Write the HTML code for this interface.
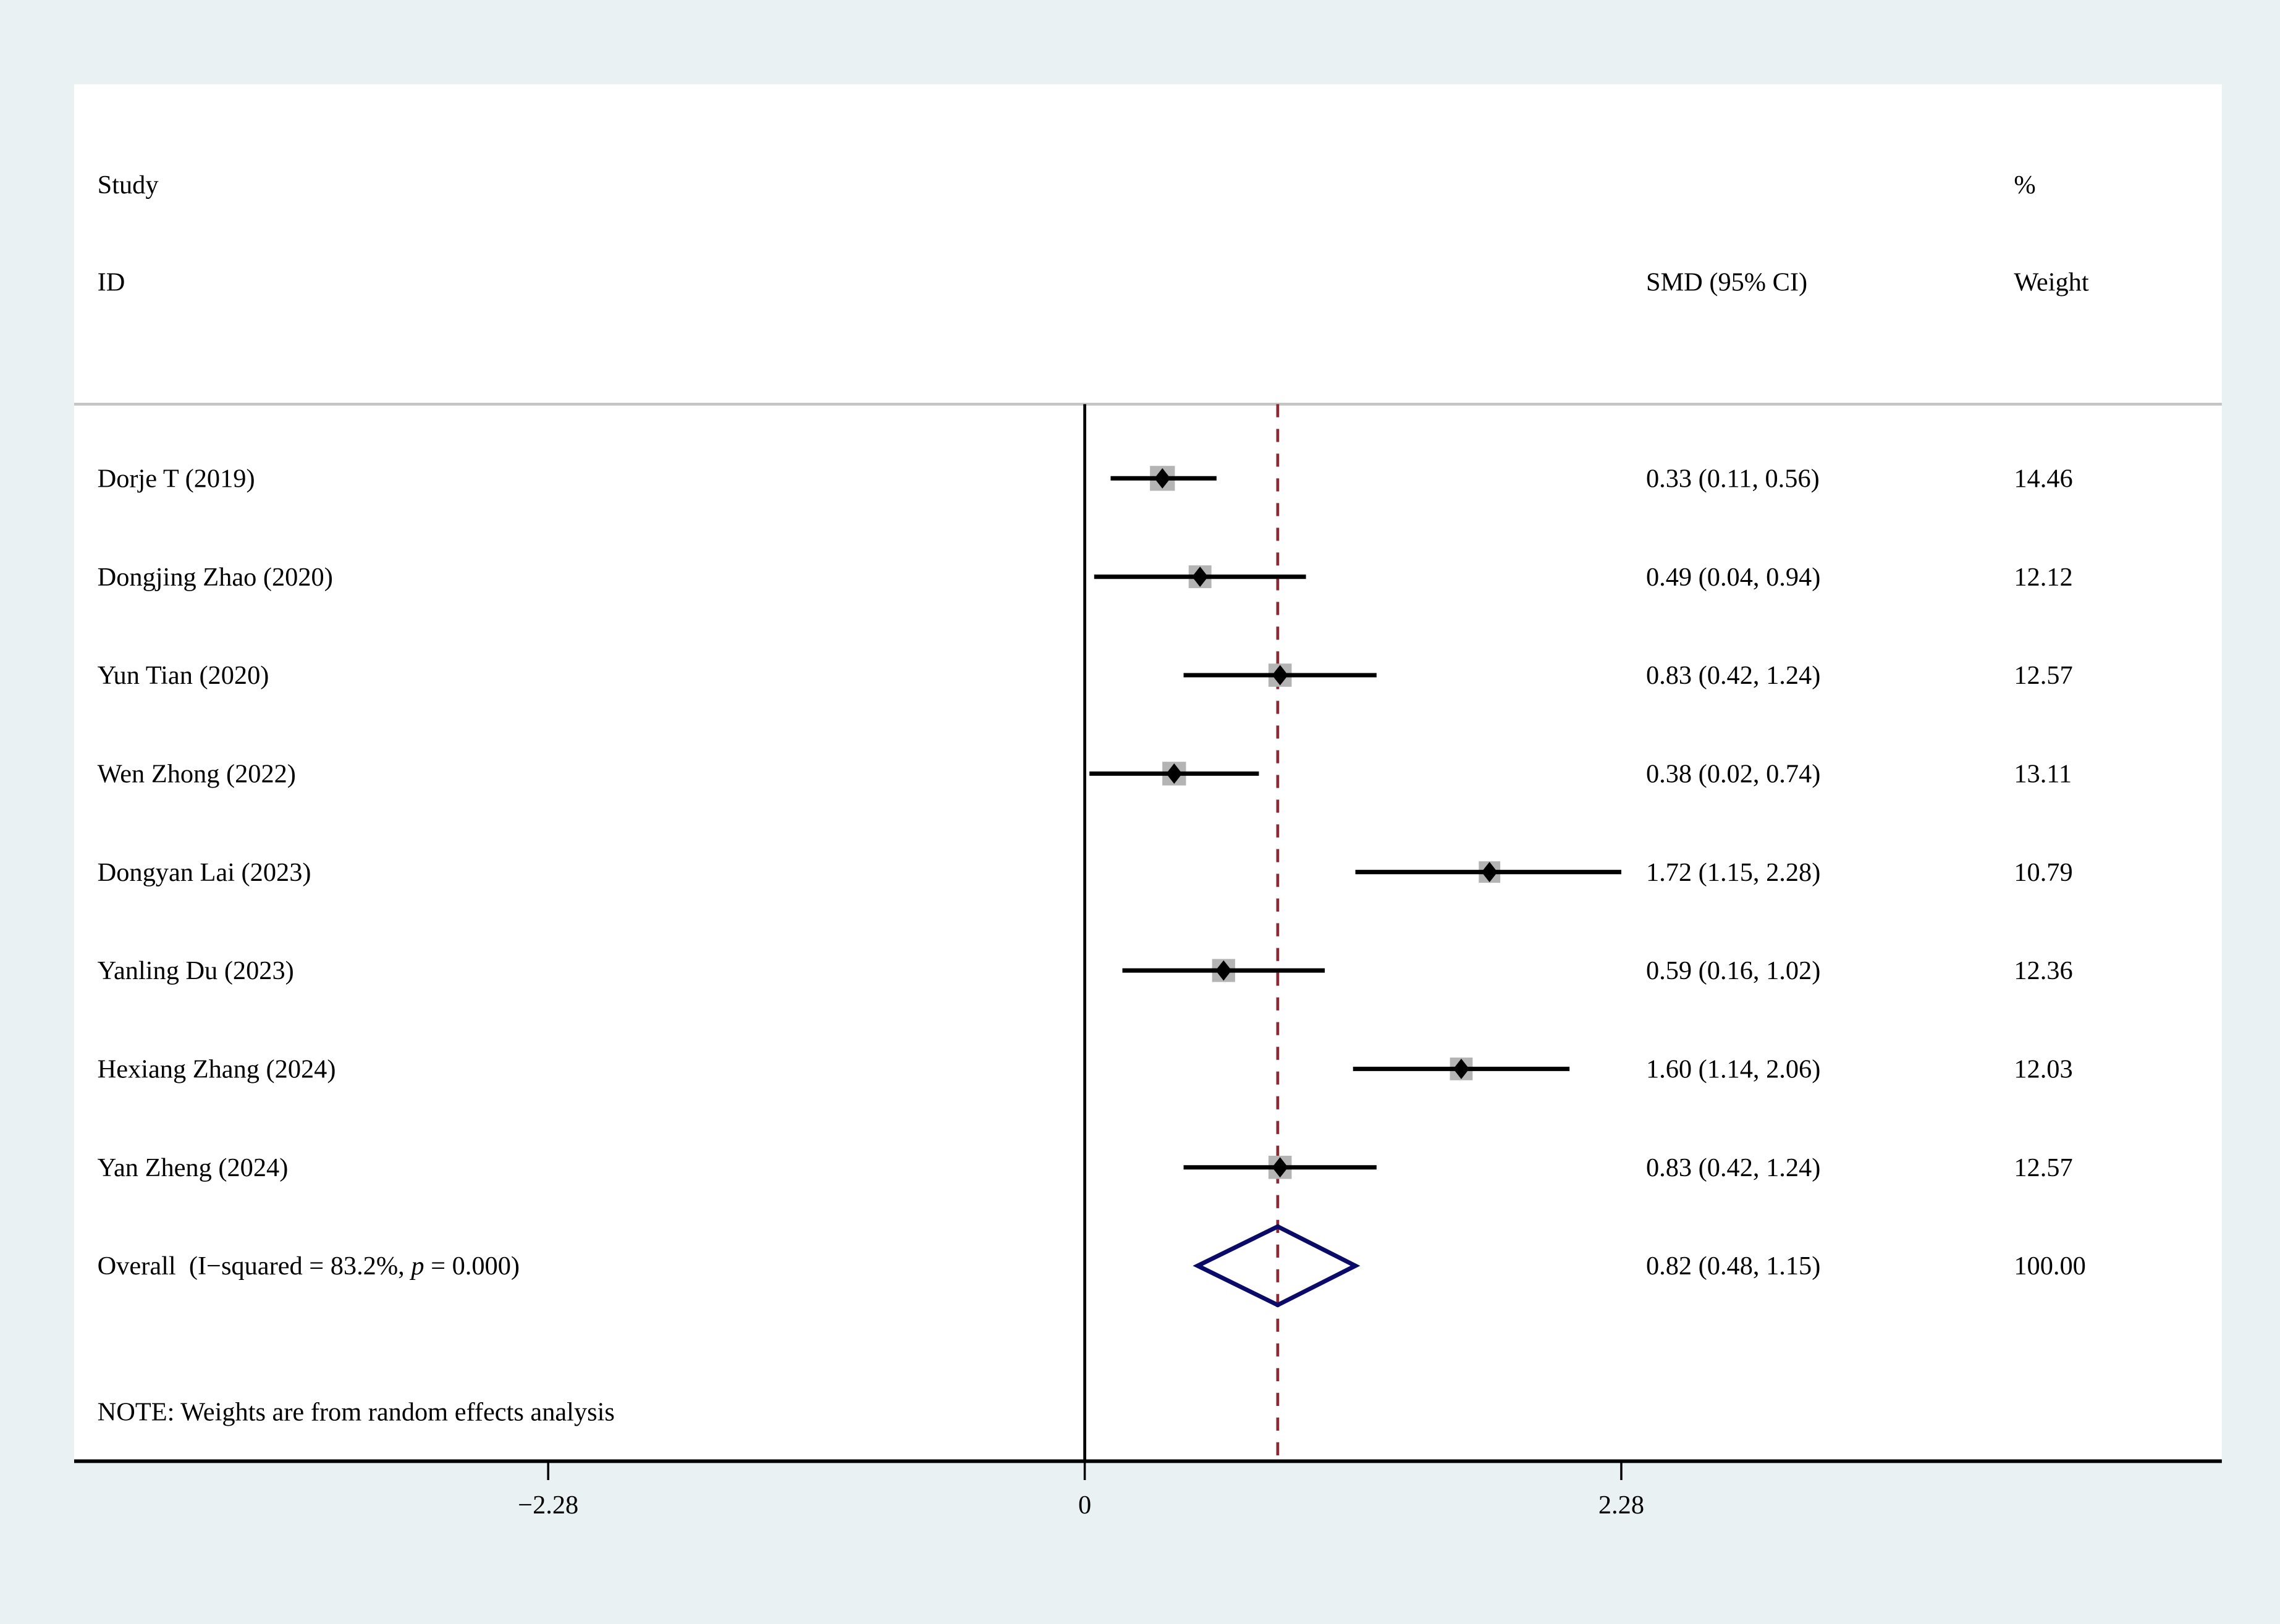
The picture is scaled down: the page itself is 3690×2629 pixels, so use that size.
<!DOCTYPE html>
<html><head><meta charset="utf-8"><style>
html,body{margin:0;padding:0;background:#e9f1f3;}
svg{display:block;}
text{font-family:"Liberation Serif","Times New Roman",serif;font-size:18px;fill:#000;white-space:pre;}
</style></head><body>
<svg id="chart" width="3690" height="2629" viewBox="0 0 1568 1117" preserveAspectRatio="none" xmlns="http://www.w3.org/2000/svg">
<rect x="0" y="0" width="1568" height="1117" fill="#e9f1f3"/>
<rect x="51" y="58" width="1477" height="947" fill="#ffffff"/>
<line x1="51" y1="278" x2="1528" y2="278" stroke="#c4c4c4" stroke-width="2"/>
<text x="67" y="133">Study</text>
<text x="67" y="200">ID</text>
<text x="1132" y="200">SMD (95% CI)</text>
<text x="1385" y="133">%</text>
<text x="1385" y="200">Weight</text>
<g id="marks"></g>
<text x="67" y="977">NOTE: Weights are from random effects analysis</text>
</svg>
<script>
const studies = ["Dorje T (2019)","Dongjing Zhao (2020)","Yun Tian (2020)","Wen Zhong (2022)","Dongyan Lai (2023)","Yanling Du (2023)","Hexiang Zhang (2024)","Yan Zheng (2024)"];
const smd = [0.33,0.49,0.83,0.38,1.72,0.59,1.60,0.83];
const lower = [0.11,0.04,0.42,0.02,1.15,0.16,1.14,0.42];
const upper = [0.56,0.94,1.24,0.74,2.28,1.02,2.06,1.24];
const weights = [14.46,12.12,12.57,13.11,10.79,12.36,12.03,12.57];
const overall = [0.82,0.48,1.15];
const overallLabel = "Overall  (I\u2212squared = 83.2%, ";
const ticks = [-2.28,0,2.28];
const tickLabels = ["\u22122.28","0","2.28"];

const NS="http://www.w3.org/2000/svg";
const g=document.getElementById('marks');
const X0=746, PPU=369/2.28;
function xs(v){return X0+v*PPU;}
function ys(i){return 329+i*67.7;}
function mk(tag,attrs){const e=document.createElementNS(NS,tag);for(const k in attrs)e.setAttribute(k,attrs[k]);g.appendChild(e);return e;}
function fmt(v){return v.toFixed(2);}

let e=mk('line',{x1:xs(0),y1:278,x2:xs(0),y2:1005,stroke:'#000','stroke-width':2});


e=mk('line',{x1:xs(overall[0]),y1:278,x2:xs(overall[0]),y2:1005,stroke:'#8b2a35','stroke-width':2,'stroke-dasharray':'9,8'});



studies.forEach((s,i)=>{
  const y=ys(i);
  let t=mk('text',{x:67,y:y+6});t.textContent=s;
  
  
  const side=Math.sqrt(weights[i])*4.5;
  let r=mk('rect',{x:xs(smd[i])-side/2,y:y-side/2,width:side,height:side,fill:'#b4b4b4'});
  
  
  let l=mk('line',{x1:xs(lower[i]),y1:y,x2:xs(upper[i]),y2:y,stroke:'#000','stroke-width':3});
  
  
  const cx=xs(smd[i]);
  let d=mk('polygon',{points:`${cx},${y-7} ${cx+5.5},${y} ${cx},${y+7} ${cx-5.5},${y}`,fill:'#000'});
  
  
  let c=mk('text',{x:1132,y:y+6});c.textContent=`${fmt(smd[i])} (${fmt(lower[i])}, ${fmt(upper[i])})`;
  
  
  let w=mk('text',{x:1385,y:y+6});w.textContent=fmt(weights[i]);
  
  
});

const oy=ys(studies.length);
let ot=mk('text',{x:67,y:oy+6});


ot.appendChild(document.createTextNode(overallLabel));
const ts=document.createElementNS(NS,'tspan');ts.setAttribute('font-style','italic');ts.textContent='p';ot.appendChild(ts);
ot.appendChild(document.createTextNode(' = 0.000)'));
let od=mk('polygon',{points:`${xs(overall[1])},${oy} ${xs(overall[0])},${oy-27} ${xs(overall[2])},${oy} ${xs(overall[0])},${oy+27}`,fill:'none',stroke:'#0a0a6a','stroke-width':3});


let oc=mk('text',{x:1132,y:oy+6});oc.textContent=`${fmt(overall[0])} (${fmt(overall[1])}, ${fmt(overall[2])})`;


let ow=mk('text',{x:1385,y:oy+6});ow.textContent='100.00';



let ax=mk('line',{x1:51,y1:1005,x2:1528,y2:1005,stroke:'#000','stroke-width':2.5});


ticks.forEach((v,i)=>{
  let tk=mk('line',{x1:xs(v),y1:1005,x2:xs(v),y2:1018,stroke:'#000','stroke-width':1.5});
  
  
  let tl=mk('text',{x:xs(v),y:1041,'text-anchor':'middle'});tl.textContent=tickLabels[i];
  
  
});
</script>
</body></html>
